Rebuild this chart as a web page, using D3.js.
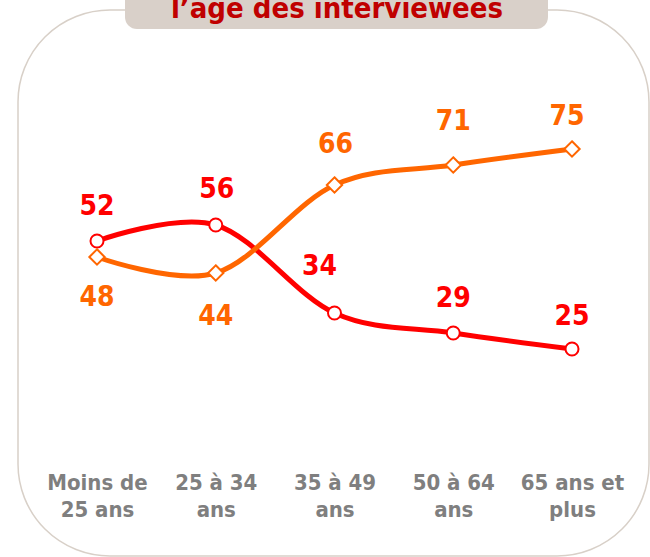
<!DOCTYPE html>
<html>
<head>
<meta charset="utf-8">
<script src="https://cdn.jsdelivr.net/npm/d3@7"></script>
<style>
    body { margin: 0; background: #ffffff; }
    text { font-family: "DejaVu Sans Condensed", "DejaVu Sans", sans-serif; font-weight: bold; }
</style>
</head>
<body>
<svg id="drawing_region"></svg>
<script>
// categories (age groups), two lines each
const categories = ["Moins de 25 ans", "25 à 34 ans", "35 à 49 ans", "50 à 64 ans", "65 ans et plus"];
const categoryLines = [["Moins de", "25 ans"], ["25 à 34", "ans"], ["35 à 49", "ans"], ["50 à 64", "ans"], ["65 ans et", "plus"]];

// series values (%)
const redValues = [52, 56, 34, 29, 25];
const orangeValues = [48, 44, 66, 71, 75];

const titleText = "l’age des interviewees";

// label offsets relative to the marker (styling only)
const redLabelDy = [-26, -27, -38, -26, -24];
const redLabelDx = [0, 1, -15, 0, 0];
const orangeLabelDy = [49, 52, -32, -35, -24];
const orangeLabelDx = [0, 0, 1, 0, -5];

const config = {
    width: 650,
    height: 557,
    red: '#ff0000',
    orange: '#ff6600',
    border: '#d8d0c8',
    titleFill: '#d9d0c9',
    titleColor: '#c00000',
    tickColor: '#7f7f7f'
};

const svg = d3.select('#drawing_region')
    .attr('width', config.width)
    .attr('height', config.height);

// outer rounded frame
svg.append('rect')
    .attr('x', 18)
    .attr('y', 10)
    .attr('width', 631)
    .attr('height', 546)
    .attr('rx', 92)
    .attr('ry', 92)
    .attr('fill', 'none')
    .attr('stroke', config.border)
    .attr('stroke-width', 1.5);

// title tab (top is cut off by the window)
svg.append('rect')
    .attr('x', 125)
    .attr('y', -20)
    .attr('width', 423)
    .attr('height', 49)
    .attr('rx', 12)
    .attr('fill', config.titleFill);

svg.append('text')
    .attr('x', 337)
    .attr('y', 18)
    .attr('text-anchor', 'middle')
    .attr('fill', config.titleColor)
    .style('font-size', '29px')
    .text(titleText);

const xscale = d3.scalePoint()
    .domain(categories)
    .range([97, 572]);

const yscale = d3.scaleLinear()
    .domain([0, 100])
    .range([449, 49]);

// x axis: labels only
const xaxis = d3.axisBottom(xscale).tickSize(0).tickPadding(0);
const xaxis_group = svg.append('g')
    .attr('transform', 'translate(0, 490)')
    .call(xaxis);
xaxis_group.select('.domain').remove();
xaxis_group.selectAll('text')
    .attr('y', 0)
    .attr('dy', null)
    .attr('fill', config.tickColor)
    .style('font-size', '22px')
    .style('font-family', null)
    .each(function(d, i) {
        const t = d3.select(this).text('');
        categoryLines[i].forEach((line, j) => {
            t.append('tspan')
                .attr('x', 0)
                .attr('y', j * 27)
                .text(line);
        });
    });

const line = d3.line()
    .x((d, i) => xscale(categories[i]))
    .y(d => yscale(d))
    .curve(d3.curveCardinal.tension(0));

function drawSeries(values, color, marker, dx, dy) {
    svg.append('path')
        .datum(values)
        .attr('d', line)
        .attr('fill', 'none')
        .attr('stroke', color)
        .attr('stroke-width', 5)
        .attr('stroke-linejoin', 'round');

    const g = svg.append('g');
    if (marker === 'circle') {
        g.selectAll('circle')
            .data(values)
            .join('circle')
            .attr('cx', (d, i) => xscale(categories[i]))
            .attr('cy', d => yscale(d))
            .attr('r', 6.5)
            .attr('fill', '#ffffff')
            .attr('stroke', color)
            .attr('stroke-width', 2);
    } else {
        g.selectAll('path')
            .data(values)
            .join('path')
            .attr('d', d3.symbol(d3.symbolDiamond2, 150))
            .attr('transform', (d, i) => `translate(${xscale(categories[i])}, ${yscale(d)})`)
            .attr('fill', '#ffffff')
            .attr('stroke', color)
            .attr('stroke-width', 2);
    }

    svg.append('g').selectAll('text')
        .data(values)
        .join('text')
        .attr('x', (d, i) => xscale(categories[i]) + dx[i])
        .attr('y', (d, i) => yscale(d) + dy[i])
        .attr('text-anchor', 'middle')
        .attr('fill', color)
        .style('font-size', '28px')
        .text(d => d);
}

drawSeries(redValues, config.red, 'circle', redLabelDx, redLabelDy);
drawSeries(orangeValues, config.orange, 'diamond', orangeLabelDx, orangeLabelDy);
</script>
</body>
</html>
